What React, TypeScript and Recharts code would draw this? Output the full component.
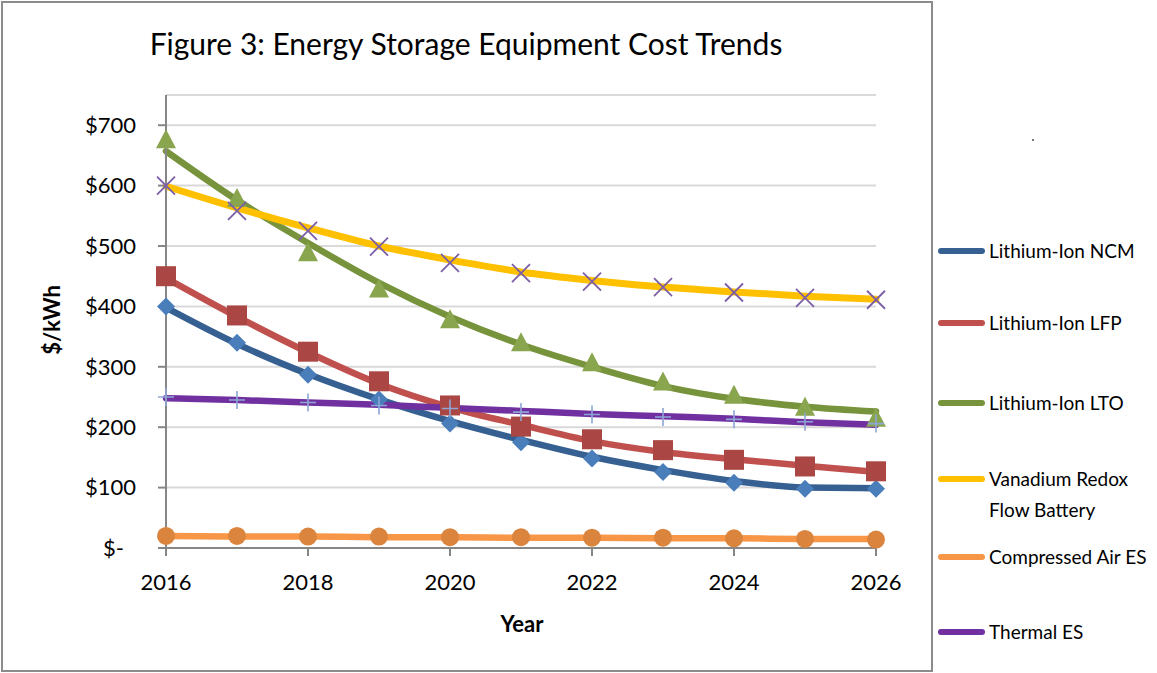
import React from "react";
import { CartesianGrid, ComposedChart, Line, XAxis, YAxis } from "recharts";

// values, one entry per year
const years = [2016, 2017, 2018, 2019, 2020, 2021, 2022, 2023, 2024, 2025, 2026];
const yearTicks = [2016, 2018, 2020, 2022, 2024, 2026];
const costTicks = [0, 100, 200, 300, 400, 500, 600, 700];

// marker values (data points)
const ncmCost = [400, 340, 287, 246, 206, 175, 148, 126, 108, 98, 98];
const lfpCost = [450, 385, 325, 276, 236, 201, 180, 162, 146, 135, 127];
const ltoCost = [675, 578, 488, 428, 377, 339, 306, 274, 252, 232, 214];
const vrfbCost = [600, 558, 525, 499, 472, 455, 441, 432, 423, 414, 411];
const caesCost = [20, 20, 19, 19, 18, 18, 17, 17, 16, 15, 14];
const thermalCost = [250, 245, 241, 236, 231, 225, 221, 217, 213, 209, 206];

// trend line values (the smooth thick lines)
const ncmTrend = [398, 338, 288, 246, 210, 179, 151, 129, 111, 100, 99];
const lfpTrend = [447, 383, 324, 272, 233, 204, 177, 159, 147, 136, 126];
const ltoTrend = [657, 576, 505, 439, 383, 337, 300, 268, 247, 234, 226];
const vrfbTrend = [599, 563, 530, 500, 477, 457, 443, 432, 424, 417, 412];
const caesTrend = [20, 19, 19, 18, 18, 17, 17, 16, 16, 15, 15];
const thermalTrend = [248, 245, 241, 237, 232, 227, 222, 218, 214, 208, 204];

const seriesNames = [
  "Lithium-Ion NCM",
  "Lithium-Ion LFP",
  "Lithium-Ion LTO",
  "Vanadium Redox Flow Battery",
  "Compressed Air ES",
  "Thermal ES",
];

const data = years.map((year, i) => ({
  year,
  ncm: ncmCost[i],
  lfp: lfpCost[i],
  lto: ltoCost[i],
  vrfb: vrfbCost[i],
  caes: caesCost[i],
  thermal: thermalCost[i],
  ncmT: ncmTrend[i],
  lfpT: lfpTrend[i],
  ltoT: ltoTrend[i],
  vrfbT: vrfbTrend[i],
  caesT: caesTrend[i],
  thermalT: thermalTrend[i],
}));

const FONT = "Lato, 'Open Sans', sans-serif";

type Shape = "diamond" | "square" | "triangle" | "x" | "circle" | "plus";

function marker(shape: Shape, color: string) {
  return (p: any) => {
    const { cx, cy, index } = p;
    const key = `${shape}-${index}`;
    if (cx == null || cy == null) return <g key={key} />;
    switch (shape) {
      case "diamond":
        return (
          <path key={key} d={`M${cx},${cy - 9} L${cx + 9},${cy} L${cx},${cy + 9} L${cx - 9},${cy} Z`} fill={color} />
        );
      case "square":
        return <rect key={key} x={cx - 10} y={cy - 10} width={20} height={20} fill={color} />;
      case "triangle":
        return (
          <path key={key} d={`M${cx},${cy - 11} L${cx + 10},${cy + 8} L${cx - 10},${cy + 8} Z`} fill={color} />
        );
      case "circle":
        return <circle key={key} cx={cx} cy={cy} r={9} fill={color} />;
      case "x":
        return (
          <path
            key={key}
            d={`M${cx - 9},${cy - 9} L${cx + 9},${cy + 9} M${cx + 9},${cy - 9} L${cx - 9},${cy + 9}`}
            stroke={color}
            strokeWidth={1.8}
            fill="none"
          />
        );
      default:
        return (
          <path
            key={key}
            d={`M${cx - 8},${cy} L${cx + 8},${cy} M${cx},${cy - 9} L${cx},${cy + 9}`}
            stroke={color}
            strokeWidth={1.6}
            fill="none"
          />
        );
    }
  };
}

const markerSeries: { key: string; shape: Shape; color: string }[] = [
  { key: "ncm", shape: "diamond", color: "#4A7EBB" },
  { key: "lfp", shape: "square", color: "#AA4643" },
  { key: "lto", shape: "triangle", color: "#89A54E" },
  { key: "vrfb", shape: "x", color: "#7B5EA7" },
  { key: "caes", shape: "circle", color: "#DB843D" },
  { key: "thermal", shape: "plus", color: "#8DA6D6" },
];

const lineColors = ["#376092", "#C0504D", "#77933C", "#FFC000", "#F79646", "#7030A0"];
const trendKeys = ["ncmT", "lfpT", "ltoT", "vrfbT", "caesT", "thermalT"];

function YTick(props: any) {
  const { x, y, payload } = props;
  const v = payload.value;
  return (
    <text x={v === 0 ? x - 12 : x} y={y} dy="0.35em" textAnchor="end" fontSize={22} fontFamily={FONT} fill="#000">
      {v === 0 ? "$-" : `$${v}`}
    </text>
  );
}

const legendRows = [
  { top: 251, color: lineColors[0], lines: [seriesNames[0]] },
  { top: 323, color: lineColors[1], lines: [seriesNames[1]] },
  { top: 403, color: lineColors[2], lines: [seriesNames[2]] },
  { top: 479, color: lineColors[3], lines: ["Vanadium Redox", "Flow Battery"] },
  { top: 557, color: lineColors[4], lines: [seriesNames[4]] },
  { top: 632, color: lineColors[5], lines: [seriesNames[5]] },
];

export default function App() {
  return (
    <div style={{ position: "absolute", left: 0, top: 0, width: 1157, height: 673, background: "#fff", fontFamily: FONT }}>
      <div
        style={{
          position: "absolute",
          left: 1,
          top: 1,
          width: 932,
          height: 671,
          border: "2px solid #8C8C8C",
          boxSizing: "border-box",
        }}
      />
      <div style={{ position: "absolute", left: 466, top: 25, transform: "translateX(-50%)", fontSize: 30, whiteSpace: "nowrap" }}>
        Figure 3: Energy Storage Equipment Cost Trends
      </div>
      <div
        style={{
          position: "absolute",
          left: 51,
          top: 320,
          transform: "translate(-50%, -50%) rotate(-90deg)",
          fontSize: 22,
          fontWeight: 700,
          whiteSpace: "nowrap",
        }}
      >
        $/kWh
      </div>
      <div
        style={{ position: "absolute", left: 522, top: 623, transform: "translate(-50%, -50%)", fontSize: 22, fontWeight: 700 }}
      >
        Year
      </div>
      <div style={{ position: "absolute", left: 1032, top: 139, width: 2, height: 2, background: "#777" }} />
      <div style={{ position: "absolute", left: 0, top: 0 }}>
        <ComposedChart width={1157} height={673} data={data} margin={{ top: 95, right: 281, bottom: 65, left: 0 }}>
          <CartesianGrid horizontal vertical={false} stroke="#D9D9D9" strokeWidth={2} />
          <XAxis
            dataKey="year"
            type="number"
            domain={[2016, 2026]}
            ticks={yearTicks}
            height={60}
            tickSize={8}
            tickMargin={18}
            axisLine={{ stroke: "#868686", strokeWidth: 2 }}
            tickLine={{ stroke: "#868686", strokeWidth: 2 }}
            tick={{ fontSize: 22, fontFamily: FONT, fill: "#000" }}
          />
          <YAxis
            type="number"
            domain={[0, 750]}
            ticks={costTicks}
            width={166}
            tickSize={8}
            tickMargin={22}
            axisLine={{ stroke: "#868686", strokeWidth: 2 }}
            tickLine={{ stroke: "#868686", strokeWidth: 2 }}
            tick={<YTick />}
          />
          {markerSeries.map((m) => (
            <Line
              key={m.key}
              dataKey={m.key}
              stroke="none"
              dot={marker(m.shape, m.color)}
              activeDot={false}
              legendType="none"
              isAnimationActive={false}
            />
          ))}
          {trendKeys.map((k, i) => (
            <Line
              key={k}
              type="monotone"
              dataKey={k}
              stroke={lineColors[i]}
              strokeWidth={k === "vrfbT" ? 7 : 6.5}
              strokeLinecap="round"
              dot={false}
              activeDot={false}
              isAnimationActive={false}
            />
          ))}
        </ComposedChart>
      </div>
      {legendRows.map((r) => (
        <div key={r.top} style={{ position: "absolute", left: 938, top: r.top - 12, display: "flex", alignItems: "flex-start" }}>
          <div
            style={{ width: 47, height: 6, borderRadius: 3, background: r.color, marginTop: 9, marginRight: 4 }}
          />
          <div style={{ fontSize: 19, lineHeight: "31px", marginTop: -4 }}>
            {r.lines.map((t) => (
              <div key={t}>{t}</div>
            ))}
          </div>
        </div>
      ))}
    </div>
  );
}
